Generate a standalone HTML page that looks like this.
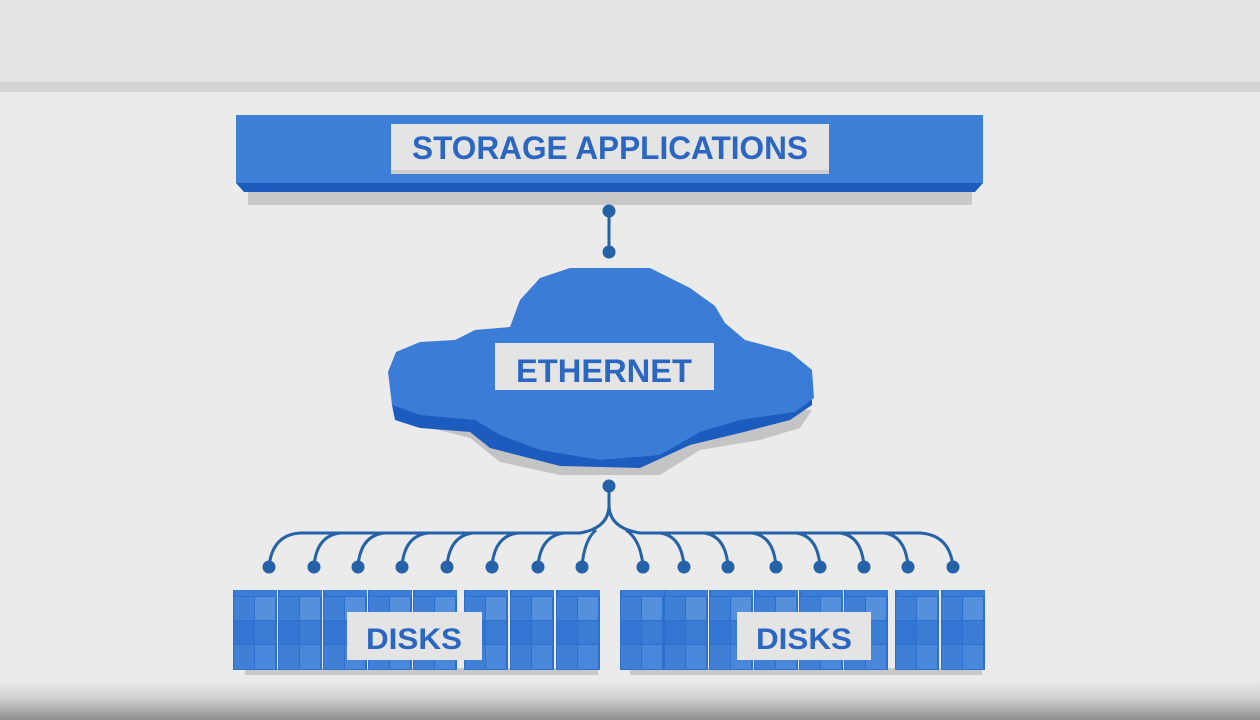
<!DOCTYPE html>
<html><head><meta charset="utf-8"><style>
html,body{margin:0;padding:0;width:1260px;height:720px;overflow:hidden;background:#ebebeb}
</style></head><body>
<svg width="1260" height="720" viewBox="0 0 1260 720" xmlns="http://www.w3.org/2000/svg">
<defs>
<linearGradient id="bot" x1="0" y1="0" x2="0" y2="1">
<stop offset="0" stop-color="#ebebeb"/><stop offset="0.45" stop-color="#d0d0d0"/><stop offset="1" stop-color="#8e8e8e"/>
</linearGradient>
<symbol id="col" viewBox="0 0 44 80" width="44" height="80">
<rect x="0" y="0" width="44" height="80" fill="#2e6fcf"/>
<rect x="2" y="0" width="42" height="6" fill="#3a7dd8"/>
<rect x="1" y="7" width="20" height="23" fill="#3f80d6"/>
<rect x="22" y="7" width="20" height="23" fill="#5590dc"/>
<rect x="1" y="31" width="20" height="23" fill="#3375d2"/>
<rect x="22" y="31" width="20" height="23" fill="#3b7cd5"/>
<rect x="1" y="55" width="20" height="24" fill="#3f80d6"/>
<rect x="22" y="55" width="20" height="24" fill="#4887d9"/>
</symbol>
</defs>
<rect width="1260" height="720" fill="#ebebeb"/>
<rect width="1260" height="82" fill="#e3e3e3"/>
<rect y="82" width="1260" height="10" fill="#d3d3d3"/>
<rect y="680" width="1260" height="40" fill="url(#bot)"/>

<!-- top bar -->
<rect x="248" y="190" width="724" height="15" fill="#c9c9c9"/>
<rect x="236" y="115" width="747" height="68" fill="#3e7fd7"/>
<polygon points="236,183 983,183 975,192 244,192" fill="#1d5cbd"/>
<rect x="391" y="124" width="438" height="48" fill="#e4e4e4"/>
<rect x="391" y="170" width="438" height="4" fill="#cfcfcf"/>
<text x="610" y="159" text-anchor="middle" font-family="Liberation Sans, sans-serif" font-weight="bold" font-size="32" fill="#2a66c2" textLength="396" lengthAdjust="spacingAndGlyphs">STORAGE APPLICATIONS</text>

<!-- connector top -->
<line x1="609" y1="211" x2="609" y2="252" stroke="#2562a8" stroke-width="3"/>
<circle cx="609" cy="211" r="6.5" fill="#2562a8"/>
<circle cx="609" cy="252" r="6.5" fill="#2562a8"/>

<!-- cloud -->
<polygon points="400,420 470,438 500,462 560,475 660,475 700,450 760,440 800,428 812,410 714,410 470,410" fill="#c4c4c4"/>
<polygon points="392,405 395,420 420,428 470,432 490,448 560,466 640,468 690,445 740,433 790,420 812,405 812,390 690,390 500,395" fill="#1b5cbe"/>
<polygon points="388,372 396,352 420,342 455,340 475,330 510,327 520,300 540,278 570,268 650,268 690,288 715,306 725,323 745,340 790,352 812,370 814,398 795,412 740,420 700,432 660,455 600,460 540,450 500,435 475,420 420,415 392,405" fill="#3b7cd6"/>
<rect x="495" y="343" width="219" height="47" fill="#e4e4e4"/>
<text x="604" y="382" text-anchor="middle" font-family="Liberation Sans, sans-serif" font-weight="bold" font-size="32" fill="#2a66c2" textLength="176" lengthAdjust="spacingAndGlyphs">ETHERNET</text>

<!-- branches -->
<g stroke="#2562a8" stroke-width="3" fill="none">
<path d="M609,486 L609,505 Q609,528 580,533 L300,533 Q272,535 269,567"/>
<path d="M609,505 Q609,528 640,533 L920,533 Q950,535 953,567"/>
<path d="M314,567 Q316,536 340,533"/><path d="M358,567 Q360,536 384,533"/>
<path d="M402,567 Q404,536 428,533"/><path d="M447,567 Q449,536 473,533"/>
<path d="M492,567 Q494,536 518,533"/><path d="M538,567 Q540,536 564,533"/>
<path d="M582,567 Q584,540 596,530"/>
<path d="M643,567 Q641,540 626,530"/><path d="M684,567 Q682,536 660,533"/>
<path d="M728,567 Q726,536 704,533"/><path d="M776,567 Q774,536 752,533"/>
<path d="M820,567 Q818,536 796,533"/><path d="M864,567 Q862,536 840,533"/>
<path d="M908,567 Q906,536 884,533"/>
</g>
<g fill="#2562a8">
<circle cx="609" cy="486" r="6.5"/>
<circle cx="269" cy="567" r="6.5"/><circle cx="314" cy="567" r="6.5"/><circle cx="358" cy="567" r="6.5"/><circle cx="402" cy="567" r="6.5"/>
<circle cx="447" cy="567" r="6.5"/><circle cx="492" cy="567" r="6.5"/><circle cx="538" cy="567" r="6.5"/><circle cx="582" cy="567" r="6.5"/>
<circle cx="643" cy="567" r="6.5"/><circle cx="684" cy="567" r="6.5"/><circle cx="728" cy="567" r="6.5"/><circle cx="776" cy="567" r="6.5"/>
<circle cx="820" cy="567" r="6.5"/><circle cx="864" cy="567" r="6.5"/><circle cx="908" cy="567" r="6.5"/><circle cx="953" cy="567" r="6.5"/>
</g>

<!-- disks shadows -->
<rect x="245" y="668" width="353" height="7" fill="#c8c8c8"/>
<rect x="630" y="668" width="352" height="7" fill="#c8c8c8"/>
<!-- disks left -->
<use href="#col" x="233" y="590"/><use href="#col" x="278" y="590"/><use href="#col" x="323" y="590"/><use href="#col" x="368" y="590"/>
<use href="#col" x="413" y="590"/><use href="#col" x="464" y="590"/><use href="#col" x="510" y="590"/><use href="#col" x="556" y="590"/>
<!-- disks right -->
<use href="#col" x="620" y="590"/><use href="#col" x="664" y="590"/><use href="#col" x="709" y="590"/><use href="#col" x="754" y="590"/>
<use href="#col" x="799" y="590"/><use href="#col" x="844" y="590"/><use href="#col" x="895" y="590"/><use href="#col" x="941" y="590"/>
<rect x="347" y="612" width="135" height="48" fill="#e4e4e4"/>
<text x="414" y="649" text-anchor="middle" font-family="Liberation Sans, sans-serif" font-weight="bold" font-size="30" fill="#2a66c2" textLength="96" lengthAdjust="spacingAndGlyphs">DISKS</text>
<rect x="737" y="612" width="134" height="48" fill="#e4e4e4"/>
<text x="804" y="649" text-anchor="middle" font-family="Liberation Sans, sans-serif" font-weight="bold" font-size="30" fill="#2a66c2" textLength="96" lengthAdjust="spacingAndGlyphs">DISKS</text>
</svg>
</body></html>
